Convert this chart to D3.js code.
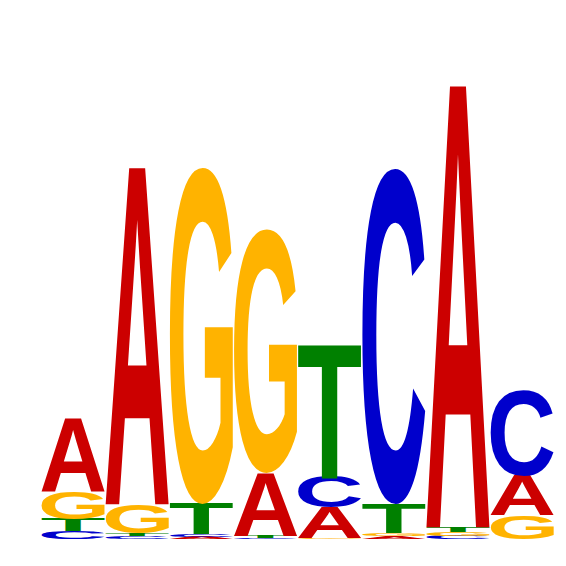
<!DOCTYPE html>
<html>
<head>
<meta charset="utf-8">
<script src="https://cdn.jsdelivr.net/npm/d3@7"></script>
<style>
html,body{margin:0;padding:0;background:#fff;}
svg{display:block;}
</style>
</head>
<body>
<svg id="chart" width="566" height="566"></svg>
<script>
// Sequence logo data: information content (bits) contributed by each base at each position
const positions = [1, 2, 3, 4, 5, 6, 7, 8];
const bases = ["A", "C", "G", "T"];
const A = [0.304, 1.404, 0.0095, 0.2625, 0.125, 0.0115, 1.842, 0.1625];
const C = [0.033, 0.0115, 0.0110, 0.0050, 0.129, 1.400, 0.0135, 0.358];
const G = [0.1125, 0.121, 1.404, 1.017, 0.006, 0.0125, 0.0146, 0.100];
const T = [0.050, 0.0125, 0.125, 0.0075, 0.550, 0.121, 0.021, 0.000];
const colors = {A: "#cc0000", C: "#0000cc", G: "#ffb300", T: "#008000"};

const series = {A, C, G, T};
const svg = d3.select("#chart");

const x = d3.scaleBand().domain(positions).range([41.5, 553.5]).paddingInner(0.02).paddingOuter(0);
const y = d3.scaleLinear().domain([0, 2]).range([539, 59]);

const FONT = "'Liberation Sans', Arial, Helvetica, sans-serif";
const FS = 200;
// measure true ink bounds of each glyph by rasterising it
const canvas = document.createElement("canvas");
canvas.width = 400; canvas.height = 400;
const ctx = canvas.getContext("2d", {willReadFrequently: true});
const metrics = {};
bases.forEach(b => {
  ctx.clearRect(0, 0, 400, 400);
  ctx.font = "bold " + FS + "px " + FONT;
  ctx.fillStyle = "#000";
  ctx.textBaseline = "alphabetic";
  const ox = 100, oy = 300;
  ctx.fillText(b, ox, oy);
  const data = ctx.getImageData(0, 0, 400, 400).data;
  let minX = 400, maxX = -1, minY = 400, maxY = -1;
  for (let yy = 0; yy < 400; yy++) {
    for (let xx = 0; xx < 400; xx++) {
      if (data[(yy * 400 + xx) * 4 + 3] > 127) {
        if (xx < minX) minX = xx;
        if (xx > maxX) maxX = xx;
        if (yy < minY) minY = yy;
        if (yy > maxY) maxY = yy;
      }
    }
  }
  metrics[b] = {left: minX - ox, right: maxX + 1 - ox, top: minY - oy, bottom: maxY + 1 - oy};
});

const stacks = positions.map((p, i) => {
  const items = bases.map(b => ({base: b, value: series[b][i]}))
    .filter(d => d.value > 0)
    .sort((a, b) => a.value - b.value);
  let cum = 0;
  return items.map(d => {
    const r = {pos: p, base: d.base, y0: cum, y1: cum + d.value};
    cum += d.value;
    return r;
  });
}).flat();

svg.append("g").selectAll("text")
  .data(stacks)
  .join("text")
  .attr("x", 0).attr("y", 0)
  .attr("font-family", FONT)
  .attr("font-weight", "bold")
  .attr("font-size", FS)
  .attr("fill", d => colors[d.base])
  .attr("transform", d => {
    const m = metrics[d.base];
    const w = x.bandwidth();
    const top = y(d.y1), bot = y(d.y0);
    const h = Math.max(bot - top, 0.01);
    const sx = w / (m.right - m.left);
    const sy = h / (m.bottom - m.top);
    return `translate(${x(d.pos)},${top}) scale(${sx},${sy}) translate(${-m.left},${-m.top})`;
  })
  .text(d => d.base);
</script>
</body>
</html>
